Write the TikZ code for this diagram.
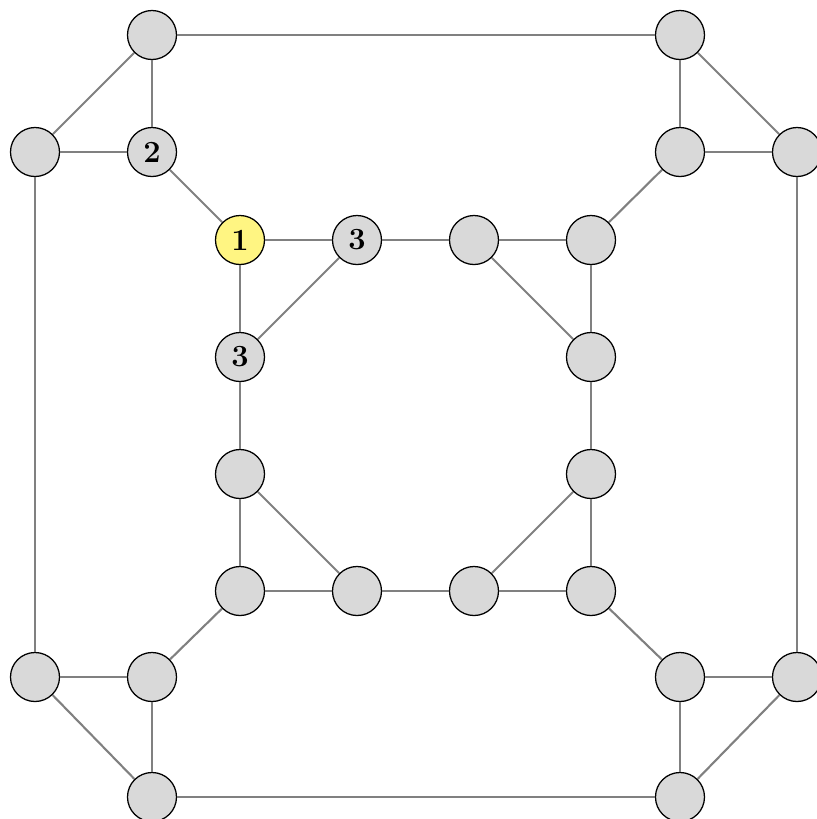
\documentclass[tikz,border=0pt]{standalone}
\usepackage{amssymb}
\usepackage{tikz}
\definecolor{hlyellow}{RGB}{255,245,130}

\begin{document}
\begin{tikzpicture}[x=0.357pt, y=-0.357pt,
		vtx/.style={circle, draw=black, line width=0.45pt, fill=black!15, minimum size=17.5pt, inner sep=0pt, font=\fontsize{11}{13}\selectfont\bfseries},
		edge/.style={draw=black!50, line width=0.75pt}]
				\useasboundingbox (0,0) rectangle (817,819);
				% outer corners
				\node[vtx] (A1) at (152,35) {};
				\node[vtx] (A2) at (35,152) {};
				\node[vtx] (A3) at (152,152) {2};
				\node[vtx] (B1) at (680,35) {};
				\node[vtx] (B2) at (680,152) {};
				\node[vtx] (B3) at (797,152) {};
				\node[vtx] (C1) at (35,677) {};
				\node[vtx] (C2) at (152,677) {};
				\node[vtx] (C3) at (152,797) {};
				\node[vtx] (D1) at (680,677) {};
				\node[vtx] (D2) at (797,677) {};
				\node[vtx] (D3) at (680,797) {};
				% inner ring
				\node[vtx, fill=hlyellow] (I1) at (240,240) {1};
				\node[vtx] (I2) at (357,240) {3};
				\node[vtx] (I3) at (474,240) {};
				\node[vtx] (I4) at (591,240) {};
				\node[vtx] (I5) at (240,357) {3};
				\node[vtx] (I6) at (591,357) {};
				\node[vtx] (I7) at (240,474) {};
				\node[vtx] (I8) at (591,474) {};
				\node[vtx] (I9) at (240,591) {};
				\node[vtx] (I10) at (357,591) {};
				\node[vtx] (I11) at (474,591) {};
				\node[vtx] (I12) at (591,591) {};
				% outer edges
				\draw[edge] (A1) -- (A2);
				\draw[edge] (A1) -- (A3);
				\draw[edge] (A2) -- (A3);
				\draw[edge] (B1) -- (B2);
				\draw[edge] (B1) -- (B3);
				\draw[edge] (B2) -- (B3);
				\draw[edge] (C1) -- (C2);
				\draw[edge] (C1) -- (C3);
				\draw[edge] (C2) -- (C3);
				\draw[edge] (D1) -- (D2);
				\draw[edge] (D1) -- (D3);
				\draw[edge] (D2) -- (D3);
				\draw[edge] (A1) -- (B1);
				\draw[edge] (A2) -- (C1);
				\draw[edge] (B3) -- (D2);
				\draw[edge] (C3) -- (D3);
				% spokes
				\draw[edge] (A3) -- (I1);
				\draw[edge] (B2) -- (I4);
				\draw[edge] (C2) -- (I9);
				\draw[edge] (D1) -- (I12);
				% inner edges
				\draw[edge] (I1) -- (I2);
				\draw[edge] (I1) -- (I5);
				\draw[edge] (I2) -- (I5);
				\draw[edge] (I2) -- (I3);
				\draw[edge] (I3) -- (I4);
				\draw[edge] (I3) -- (I6);
				\draw[edge] (I4) -- (I6);
				\draw[edge] (I6) -- (I8);
				\draw[edge] (I8) -- (I12);
				\draw[edge] (I8) -- (I11);
				\draw[edge] (I11) -- (I12);
				\draw[edge] (I10) -- (I11);
				\draw[edge] (I9) -- (I10);
				\draw[edge] (I7) -- (I10);
				\draw[edge] (I7) -- (I9);
				\draw[edge] (I5) -- (I7);
			\end{tikzpicture}
\end{document}
